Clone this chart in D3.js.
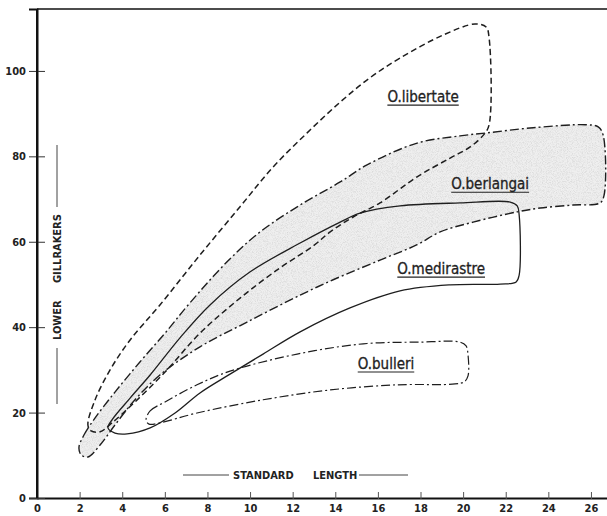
<!DOCTYPE html>
<html>
<head>
<meta charset="utf-8">
<script src="https://cdn.jsdelivr.net/npm/d3@7"></script>
<style>
  body { margin: 0; background: #fff; }
  svg { display: block; }
  text { font-family: "DejaVu Sans Condensed", "DejaVu Sans", sans-serif; fill: #222; }
</style>
</head>
<body>
<div id="chart"></div>
<script>
// outlines of each species cloud, [standard length, lower gillrakers]
var libertate = [[2.39,17.1],[2.72,22.9],[3.43,30.0],[4.37,37.0],[5.77,45.2],[7.65,56.9],[9.53,68.2],
  [11.08,77.5],[12.68,85.5],[14.23,92.7],[15.63,98.4],[17.04,103.0],[19.06,108.4],[20.56,111.0],
  [21.08,110.3],[21.22,107.7],[21.22,87.4],[20.99,85.2],[20.33,82.2],[19.39,79.6],[17.84,75.2],
  [16.10,69.1],[14.84,65.8],[13.76,62.3],[12.96,59.0],[11.41,53.9],[9.53,46.8],[7.65,38.6],
  [6.01,29.5],[4.60,22.5],[3.52,17.6],[2.96,15.5],[2.54,15.7]];
var berlangai = [[1.97,11.9],[2.21,14.8],[2.72,18.7],[3.66,24.8],[4.84,31.9],[6.01,38.6],[7.18,45.7],
  [8.92,55.3],[10.47,62.3],[12.35,68.6],[14.23,74.0],[15.49,78.0],[17.84,83.1],[19.86,84.8],
  [21.13,85.5],[23.29,86.7],[25.73,87.4],[26.34,86.9],[26.57,85.0],[26.62,71.0],[26.43,69.1],
  [25.16,68.6],[23.62,67.9],[22.54,67.0],[20.47,64.6],[18.92,62.3],[17.84,59.3],[16.10,55.7],
  [13.90,51.1],[12.35,47.5],[9.86,41.2],[7.65,35.4],[5.77,28.8],[4.60,23.0],[3.66,17.1],
  [2.96,12.4],[2.39,9.6],[2.07,10.1]];
var medirastre = [[3.33,16.4],[3.52,18.3],[4.37,23.4],[5.31,28.8],[6.71,37.5],[8.12,45.2],[9.99,52.9],
  [12.35,59.7],[14.23,64.6],[15.16,66.7],[17.04,68.4],[19.86,69.1],[22.21,69.3],[22.54,68.4],
  [22.63,66.3],[22.63,52.2],[22.49,50.6],[21.74,50.1],[19.39,49.9],[17.04,48.5],[14.69,44.5],
  [12.35,38.9],[10.61,33.7],[9.06,29.0],[7.65,24.6],[6.48,19.9],[5.31,16.4],[4.23,15.0],[3.66,15.2]];
var bulleri = [[5.12,18.3],[5.31,20.4],[6.01,22.5],[7.51,26.5],[9.06,29.7],[12.21,33.7],[15.31,36.1],
  [17.98,36.5],[19.86,36.5],[20.14,35.6],[20.23,33.5],[20.23,28.6],[20.05,27.2],[19.62,26.7],
  [16.90,26.5],[13.76,25.3],[10.61,23.0],[7.51,19.9],[5.77,17.6],[5.26,17.3]];

var xTicks = [0,2,4,6,8,10,12,14,16,18,20,22,24,26];
var yTicks = [0,20,40,60,80,100];
var labelNames = ["O.libertate","O.berlangai","O.medirastre","O.bulleri"];
var labelAt = [[18.12,92.7],[21.27,72.3],[18.97,52.4],[16.38,30.2]];

var width = 607, height = 516;

var x = d3.scaleLinear().domain([0, 26.8]).range([37, 608]);
var y = d3.scaleLinear().domain([0, 114.5]).range([498, 9]);

var svg = d3.select("#chart").append("svg")
    .attr("width", width)
    .attr("height", height);

var outline = d3.line()
    .x(function(d) { return x(d[0]); })
    .y(function(d) { return y(d[1]); })
    .curve(d3.curveCatmullRomClosed.alpha(0.5));

// stipple for the shaded berlangai band
var defs = svg.append("defs");
var f = defs.append("filter").attr("id", "grain").attr("x", 0).attr("y", 0).attr("width", 1).attr("height", 1);
f.append("feTurbulence").attr("type", "fractalNoise").attr("baseFrequency", 1.2).attr("numOctaves", 1).attr("seed", 3).attr("result", "n");
f.append("feColorMatrix").attr("in", "n").attr("type", "matrix")
  .attr("values", "0 0 0 0 0.6  0 0 0 0 0.6  0 0 0 0 0.6  0 0 0 -1.6 0.95").attr("result", "dots");
f.append("feComposite").attr("in", "dots").attr("in2", "SourceGraphic").attr("operator", "in").attr("result", "d2");
f.append("feMerge").selectAll("feMergeNode").data(["SourceGraphic", "d2"]).enter()
  .append("feMergeNode").attr("in", function(d) { return d; });

svg.append("path")
    .datum(berlangai)
    .attr("d", outline)
    .attr("fill", "#efefef")
    .attr("stroke", "none")
    .attr("filter", "url(#grain)");

var shapes = [
  {pts: libertate, dash: "6,3.5", w: 1.5},
  {pts: berlangai, dash: "9,3,2,3", w: 1.4},
  {pts: medirastre, dash: null, w: 1.3},
  {pts: bulleri, dash: "9,3,2,3", w: 1.2}
];

svg.selectAll(".cloud")
    .data(shapes)
  .enter().append("path")
    .attr("class", "cloud")
    .attr("d", function(d) { return outline(d.pts); })
    .attr("fill", "none")
    .attr("stroke", "#1e1e1e")
    .attr("stroke-width", function(d) { return d.w; })
    .attr("stroke-dasharray", function(d) { return d.dash; })
    .attr("stroke-linejoin", "round");

// species labels, underlined
labelNames.forEach(function(name, i) {
  var t = svg.append("text")
      .attr("x", x(labelAt[i][0]))
      .attr("y", y(labelAt[i][1]))
      .attr("text-anchor", "middle")
      .style("font-size", "15px")
      .attr("stroke", "#222")
      .attr("stroke-width", 0.3)
      .text(name);
  var w = t.node().getComputedTextLength();
  svg.append("line")
      .attr("x1", x(labelAt[i][0]) - w / 2)
      .attr("x2", x(labelAt[i][0]) + w / 2)
      .attr("y1", y(labelAt[i][1]) + 3)
      .attr("y2", y(labelAt[i][1]) + 3)
      .attr("stroke", "#222")
      .attr("stroke-width", 1.2);
});

// axes
var xAxis = svg.append("g")
    .attr("transform", "translate(0," + y(0) + ")")
    .call(d3.axisBottom(x).tickValues(xTicks).tickSize(0).tickPadding(6).tickFormat(d3.format("d")));
xAxis.selectAll(".tick").append("line")
    .attr("y1", -6).attr("y2", 1).attr("stroke", "#555");

var yAxis = svg.append("g")
    .attr("transform", "translate(" + x(0) + ",0)")
    .call(d3.axisLeft(y).tickValues(yTicks).tickSize(8).tickPadding(3).tickFormat(d3.format("d")));
yAxis.selectAll(".tick line").attr("x2", -8).attr("x1", 8).attr("stroke", "#333");

svg.selectAll(".domain").attr("stroke", "#111").attr("stroke-width", 2);
svg.selectAll(".tick text")
    .style("font-size", "11px")
    .style("font-weight", "bold")
    .attr("fill", "#222");

// top frame line
svg.append("line")
    .attr("x1", x(0)).attr("x2", width)
    .attr("y1", y(114.5)).attr("y2", y(114.5))
    .attr("stroke", "#111").attr("stroke-width", 1.6);
svg.append("line")
    .attr("x1", x(0)).attr("x2", x(0))
    .attr("y1", y(114.5)).attr("y2", y(0))
    .attr("stroke", "#111").attr("stroke-width", 2);

// axis titles
var xt = svg.append("g");
xt.append("line").attr("x1", 183).attr("x2", 229).attr("y1", 475).attr("y2", 475).attr("stroke", "#444");
xt.append("text").attr("x", 233).attr("y", 479).style("font-size", "11px").style("font-weight", "bold").text("STANDARD");
xt.append("text").attr("x", 313).attr("y", 479).style("font-size", "11px").style("font-weight", "bold").text("LENGTH");
xt.append("line").attr("x1", 359).attr("x2", 408).attr("y1", 475).attr("y2", 475).attr("stroke", "#444");

var yt = svg.append("g");
yt.append("line").attr("x1", 57).attr("x2", 57).attr("y1", 145).attr("y2", 207).attr("stroke", "#444");
yt.append("text").attr("transform", "translate(61,283) rotate(-90)").style("font-size", "11px").style("font-weight", "bold").text("GILLRAKERS");
yt.append("text").attr("transform", "translate(61,340) rotate(-90)").style("font-size", "11px").style("font-weight", "bold").text("LOWER");
yt.append("line").attr("x1", 57).attr("x2", 57).attr("y1", 348).attr("y2", 404).attr("stroke", "#444");
</script>
</body>
</html>
